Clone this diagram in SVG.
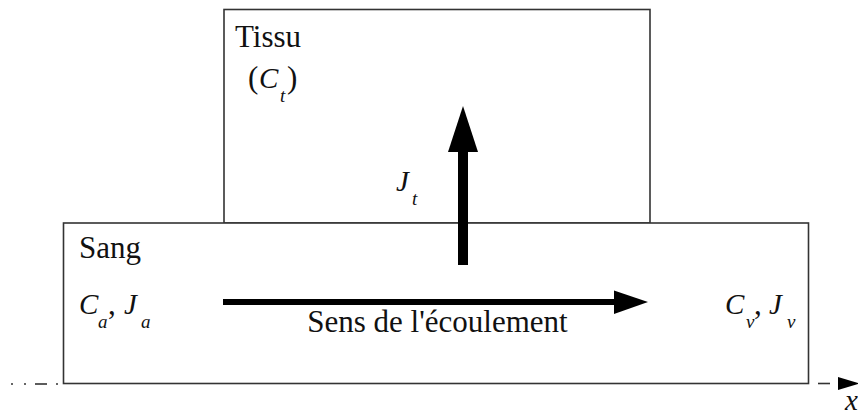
<svg xmlns="http://www.w3.org/2000/svg" width="858" height="417" viewBox="0 0 858 417">
  <style>
    .box { fill: #fff; stroke: #333; stroke-width: 1.6; }
    .lbl { font-size: 31px; }
    .var { font-style: italic; font-size: 29px; }
    .sub { font-style: italic; font-size: 19px; }
    .axis { stroke: #333; stroke-width: 1.6; fill: none; }
  </style>
  <rect width="858" height="417" fill="#fff"/>

  <g font-family="Liberation Serif, Tinos, Times New Roman, serif" fill="#111">
    <!-- tissue compartment -->
    <g id="tissu">
      <rect class="box" x="224" y="9.5" width="426" height="213.5"/>
      <text class="lbl" x="235" y="47">Tissu</text>
      <text class="lbl" x="248" y="88">(</text>
      <text class="var" x="259" y="88">C</text>
      <text class="sub" x="280" y="102">t</text>
      <text class="lbl" x="287" y="88">)</text>
    </g>

    <!-- blood compartment -->
    <g id="sang">
      <rect class="box" x="63.5" y="223" width="745" height="160.5"/>
      <text class="lbl" x="79" y="258">Sang</text>
      <text class="var" x="79" y="314">C</text>
      <text class="sub" x="98" y="328">a</text>
      <text class="lbl" x="108" y="314">,</text>
      <text class="var" x="124" y="314">J</text>
      <text class="sub" x="141" y="328">a</text>
      <text class="var" x="725" y="314">C</text>
      <text class="sub" x="746" y="328">v</text>
      <text class="lbl" x="754" y="314">,</text>
      <text class="var" x="769" y="314">J</text>
      <text class="sub" x="787" y="328">v</text>
      <text class="lbl" x="437.5" y="332" text-anchor="middle">Sens de l'écoulement</text>
    </g>

    <!-- flux label -->
    <g id="flux-label">
      <text class="var" x="396" y="191">J</text>
      <text class="sub" x="412" y="205">t</text>
    </g>

    <text class="var" x="845" y="410" font-size="27">x</text>
  </g>

  <g id="connectors">
    <!-- flux from blood to tissue -->
    <rect x="458" y="150" width="10" height="115" fill="#000"/>
    <polygon points="463,106 478,152 448,152" fill="#000"/>
    <!-- flow direction -->
    <rect x="223" y="299" width="393" height="6" fill="#000"/>
    <polygon points="614,290.5 648,302 614,314" fill="#000"/>
    <!-- x axis -->
    <line class="axis" x1="11" y1="384" x2="13" y2="384"/>
    <line class="axis" x1="24" y1="384" x2="26" y2="384"/>
    <line class="axis" x1="35" y1="384" x2="47" y2="384"/>
    <line class="axis" x1="56" y1="384" x2="58" y2="384"/>
    <line class="axis" x1="818" y1="383.5" x2="830" y2="383.5"/>
    <polygon points="838,377 860,383.5 838,390" fill="#000"/>
  </g>
</svg>
